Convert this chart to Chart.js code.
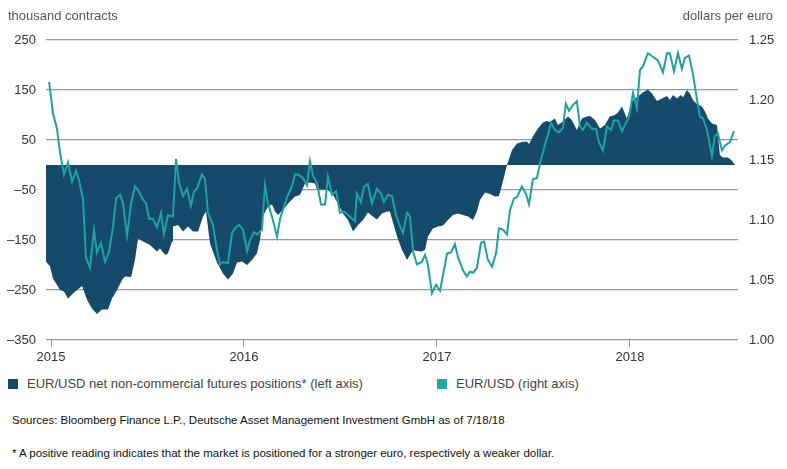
<!DOCTYPE html>
<html>
<head>
<meta charset="utf-8">
<script src="https://cdn.jsdelivr.net/npm/chart.js@4.4.1/dist/chart.umd.min.js"></script>
<style>
  body { margin: 0; background: #fff; font-family: 'Liberation Sans', Arial, sans-serif; }
  #wrap { position: relative; width: 787px; height: 469px; overflow: hidden; }
  #chart { position: absolute; left: 0; top: 0; }
  .txt { position: absolute; white-space: nowrap; line-height: 1; }
  .axis-title { top: 9px; font-size: 13px; color: #555; }
  .legend-item { top: 377px; font-size: 13px; color: #444; }
  .legend-item i { display: inline-block; width: 10px; height: 10px; vertical-align: -1px; margin-right: 9px; }
  .note { left: 12px; font-size: 11.5px; color: #111; }
</style>
</head>
<body>
<div id="wrap">
  <canvas id="chart" width="787" height="370"></canvas>
  <div class="txt axis-title" style="left:8px">thousand contracts</div>
  <div class="txt axis-title" style="right:14px">dollars per euro</div>
  <div class="txt legend-item" style="left:8px"><i style="background:#154a6b"></i>EUR/USD net non-commercial futures positions* (left axis)</div>
  <div class="txt legend-item" style="left:437px"><i style="background:#25a5a3"></i>EUR/USD (right axis)</div>
  <div class="txt note" style="top:415px">Sources: Bloomberg Finance L.P., Deutsche Asset Management Investment GmbH as of 7/18/18</div>
  <div class="txt note" style="top:448px">* A positive reading indicates that the market is positioned for a stronger euro, respectively a weaker dollar.</div>
</div>
<script>
// x values are decimal years (weekly-ish readings)
const yearTicks = [2015, 2016, 2017, 2018];
const leftTicks = [-350, -250, -150, -50, 50, 150, 250];
const rightTicks = [1.00, 1.05, 1.10, 1.15, 1.20, 1.25];

// EUR/USD net non-commercial futures positions, thousand contracts
const posYears = [
  2014.974, 2014.995, 2015.010, 2015.047, 2015.067, 2015.088, 2015.114, 2015.135, 2015.161, 2015.187,
  2015.212, 2015.238, 2015.264, 2015.295, 2015.316, 2015.342, 2015.368, 2015.383, 2015.415, 2015.435,
  2015.451, 2015.477, 2015.513, 2015.549, 2015.565, 2015.591, 2015.606, 2015.627, 2015.632, 2015.658,
  2015.684, 2015.710, 2015.736, 2015.762, 2015.788, 2015.803, 2015.824, 2015.860, 2015.891, 2015.917,
  2015.943, 2015.964, 2015.990, 2016.016, 2016.041, 2016.067, 2016.083, 2016.098, 2016.124, 2016.145,
  2016.161, 2016.176, 2016.202, 2016.238, 2016.264, 2016.290, 2016.316, 2016.342, 2016.368, 2016.378,
  2016.404, 2016.435, 2016.461, 2016.487, 2016.513, 2016.539, 2016.565, 2016.591, 2016.617, 2016.642,
  2016.668, 2016.689, 2016.715, 2016.741, 2016.756, 2016.793, 2016.819, 2016.845, 2016.860, 2016.876,
  2016.896, 2016.922, 2016.938, 2016.953, 2016.979, 2017.005, 2017.031, 2017.057, 2017.083, 2017.109,
  2017.135, 2017.161, 2017.187, 2017.207, 2017.223, 2017.249, 2017.275, 2017.301, 2017.321, 2017.337,
  2017.363, 2017.389, 2017.415, 2017.440, 2017.466, 2017.477, 2017.497, 2017.523, 2017.549, 2017.570,
  2017.585, 2017.611, 2017.627, 2017.653, 2017.679, 2017.699, 2017.725, 2017.751, 2017.777, 2017.793,
  2017.819, 2017.845, 2017.870, 2017.896, 2017.922, 2017.938, 2017.959, 2017.984, 2018.010, 2018.026,
  2018.041, 2018.067, 2018.093, 2018.114, 2018.140, 2018.166, 2018.192, 2018.207, 2018.223, 2018.244,
  2018.264, 2018.275, 2018.295, 2018.311, 2018.326, 2018.347, 2018.373, 2018.389, 2018.404, 2018.425,
  2018.451, 2018.466, 2018.482, 2018.508, 2018.528, 2018.544
];
const posValues = [
  -193, -203, -227, -250, -253, -267, -257, -250, -242, -270,
  -287, -298, -289, -289, -267, -250, -230, -223, -224, -190,
  -147, -153, -160, -173, -167, -180, -177, -153, -123, -120,
  -133, -123, -133, -133, -103, -93, -157, -195, -217, -229,
  -217, -195, -193, -200, -190, -177, -150, -103, -83, -79,
  -93, -100, -90, -73, -63, -60, -37, -35, -37, -49,
  -49, -50, -60, -77, -97, -110, -133, -120, -110, -95,
  -103, -109, -97, -93, -93, -143, -170, -190, -180, -170,
  -172, -173, -170, -143, -127, -123, -121, -110, -100, -97,
  -100, -103, -110, -93, -70, -55, -58, -63, -62, -40,
  0, 30, 43, 46, 47, 42, 57, 73, 85, 88,
  86, 93, 80, 87, 97, 90, 70, 93, 97, 98,
  90, 73, 80, 97, 100, 105, 117, 93, 127, 133,
  137, 145, 151, 143, 128, 133, 138, 130, 140, 133,
  140, 135, 150, 143, 130, 122, 117, 107, 93, 83,
  80, 20, 15, 15, 9, 0
];

// EUR/USD, dollars per euro
const fxYears = [
  2014.990, 2015.010, 2015.031, 2015.047, 2015.067, 2015.088, 2015.109, 2015.130, 2015.145, 2015.166,
  2015.181, 2015.202, 2015.223, 2015.238, 2015.259, 2015.280, 2015.301, 2015.321, 2015.337, 2015.358,
  2015.373, 2015.394, 2015.415, 2015.435, 2015.451, 2015.477, 2015.492, 2015.508, 2015.528, 2015.549,
  2015.570, 2015.585, 2015.606, 2015.632, 2015.648, 2015.663, 2015.684, 2015.705, 2015.725, 2015.741,
  2015.756, 2015.782, 2015.798, 2015.813, 2015.839, 2015.860, 2015.876, 2015.891, 2015.917, 2015.938,
  2015.953, 2015.974, 2015.995, 2016.016, 2016.031, 2016.052, 2016.067, 2016.093, 2016.109, 2016.124,
  2016.150, 2016.171, 2016.187, 2016.207, 2016.223, 2016.249, 2016.264, 2016.280, 2016.306, 2016.326,
  2016.342, 2016.358, 2016.378, 2016.399, 2016.420, 2016.435, 2016.456, 2016.477, 2016.497, 2016.518,
  2016.534, 2016.560, 2016.575, 2016.585, 2016.606, 2016.622, 2016.642, 2016.663, 2016.689, 2016.710,
  2016.725, 2016.746, 2016.767, 2016.788, 2016.803, 2016.824, 2016.845, 2016.860, 2016.876, 2016.896,
  2016.922, 2016.938, 2016.953, 2016.974, 2016.995, 2017.016, 2017.036, 2017.052, 2017.073, 2017.093,
  2017.109, 2017.135, 2017.155, 2017.171, 2017.187, 2017.207, 2017.228, 2017.244, 2017.264, 2017.285,
  2017.306, 2017.321, 2017.342, 2017.363, 2017.378, 2017.399, 2017.415, 2017.440, 2017.461, 2017.477,
  2017.497, 2017.518, 2017.534, 2017.560, 2017.575, 2017.591, 2017.611, 2017.632, 2017.653, 2017.668,
  2017.684, 2017.705, 2017.725, 2017.741, 2017.756, 2017.777, 2017.803, 2017.824, 2017.839, 2017.860,
  2017.881, 2017.902, 2017.917, 2017.938, 2017.959, 2017.979, 2017.995, 2018.016, 2018.036, 2018.052,
  2018.067, 2018.093, 2018.119, 2018.145, 2018.171, 2018.192, 2018.207, 2018.228, 2018.249, 2018.269,
  2018.285, 2018.306, 2018.326, 2018.347, 2018.363, 2018.378, 2018.399, 2018.409, 2018.425, 2018.440,
  2018.456, 2018.477, 2018.492, 2018.518, 2018.539
];
const fxValues = [
  1.215, 1.189, 1.176, 1.156, 1.138, 1.148, 1.132, 1.141, 1.133, 1.117,
  1.069, 1.060, 1.092, 1.073, 1.081, 1.065, 1.074, 1.094, 1.118, 1.121,
  1.114, 1.087, 1.114, 1.128, 1.125, 1.117, 1.114, 1.101, 1.101, 1.094,
  1.106, 1.088, 1.104, 1.103, 1.151, 1.131, 1.120, 1.126, 1.112, 1.124,
  1.126, 1.138, 1.134, 1.106, 1.096, 1.075, 1.063, 1.065, 1.064, 1.089,
  1.093, 1.096, 1.092, 1.074, 1.083, 1.090, 1.088, 1.092, 1.129, 1.114,
  1.100, 1.086, 1.101, 1.111, 1.119, 1.128, 1.138, 1.138, 1.135, 1.129,
  1.149, 1.137, 1.131, 1.113, 1.113, 1.136, 1.121, 1.124, 1.106, 1.107,
  1.105, 1.101, 1.099, 1.122, 1.115, 1.128, 1.130, 1.114, 1.126, 1.122,
  1.115, 1.121, 1.120, 1.104, 1.097, 1.089, 1.106, 1.103, 1.074, 1.063,
  1.065, 1.071, 1.063, 1.039, 1.046, 1.041, 1.058, 1.072, 1.073, 1.080,
  1.069, 1.058, 1.053, 1.057, 1.056, 1.060, 1.081, 1.082, 1.067, 1.061,
  1.072, 1.093, 1.092, 1.088, 1.108, 1.118, 1.119, 1.128, 1.122, 1.113,
  1.134, 1.135, 1.147, 1.163, 1.171, 1.181, 1.175, 1.173, 1.177, 1.197,
  1.191, 1.196, 1.199, 1.178, 1.175, 1.181, 1.176, 1.176, 1.165, 1.158,
  1.178, 1.175, 1.183, 1.183, 1.174, 1.181, 1.185, 1.206, 1.193, 1.225,
  1.228, 1.239, 1.236, 1.233, 1.223, 1.239, 1.239, 1.224, 1.239, 1.226,
  1.235, 1.237, 1.222, 1.201, 1.186, 1.185, 1.175, 1.167, 1.153, 1.170,
  1.172, 1.158, 1.162, 1.165, 1.174
];

const NAVY = '#154a6b';
const TEAL = '#1fa19f';
const GRID = '#999999';
const TICK_FONT = { family: "'Liberation Sans', Arial, sans-serif", size: 13 };

function toPoints(xs, ys) {
  return xs.map((x, i) => ({ x, y: ys[i] }));
}

function fmtLeft(v) {
  return v < 0 ? '\u2013' + Math.abs(v) : String(v);
}

new Chart(document.getElementById('chart'), {
  type: 'line',
  data: {
    datasets: [
      {
        label: 'EUR/USD (right axis)',
        data: toPoints(fxYears, fxValues),
        yAxisID: 'yRight',
        borderColor: TEAL,
        borderWidth: 2,
        pointRadius: 0,
        tension: 0,
        fill: false,
        order: 1
      },
      {
        label: 'EUR/USD net non-commercial futures positions* (left axis)',
        data: toPoints(posYears, posValues),
        yAxisID: 'yLeft',
        borderColor: NAVY,
        borderWidth: 0,
        backgroundColor: NAVY,
        pointRadius: 0,
        tension: 0,
        fill: 'origin',
        order: 2
      }
    ]
  },
  options: {
    responsive: false,
    animation: false,
    devicePixelRatio: 1,
    layout: { padding: { top: 40, bottom: 0, left: 0, right: 0 } },
    plugins: { legend: { display: false }, tooltip: { enabled: false } },
    scales: {
      x: {
        type: 'linear',
        min: 2014.974,
        max: 2018.560,
        afterBuildTicks: (scale) => { scale.ticks = yearTicks.map(v => ({ value: v })); },
        afterFit: (scale) => { scale.height = 30; },
        ticks: { color: '#333', font: TICK_FONT, padding: 3, maxRotation: 0, callback: (v) => String(v) },
        grid: { display: true, drawOnChartArea: false, drawTicks: true, tickLength: 7, color: GRID, lineWidth: 1 },
        border: { display: false }
      },
      yLeft: {
        position: 'left',
        min: -350,
        max: 250,
        afterBuildTicks: (scale) => { scale.ticks = leftTicks.map(v => ({ value: v })); },
        afterFit: (scale) => { scale.width = 46; },
        ticks: { color: '#333', font: TICK_FONT, padding: 10, callback: fmtLeft },
        grid: { color: GRID, lineWidth: 1.2, drawTicks: false },
        border: { display: false }
      },
      yRight: {
        position: 'right',
        min: 1.00,
        max: 1.25,
        afterBuildTicks: (scale) => { scale.ticks = rightTicks.map(v => ({ value: v })); },
        afterFit: (scale) => { scale.width = 49; },
        ticks: { color: '#333', font: TICK_FONT, padding: 11, callback: (v) => v.toFixed(2) },
        grid: { display: false, drawTicks: false },
        border: { display: false }
      }
    }
  }
});
</script>
</body>
</html>
